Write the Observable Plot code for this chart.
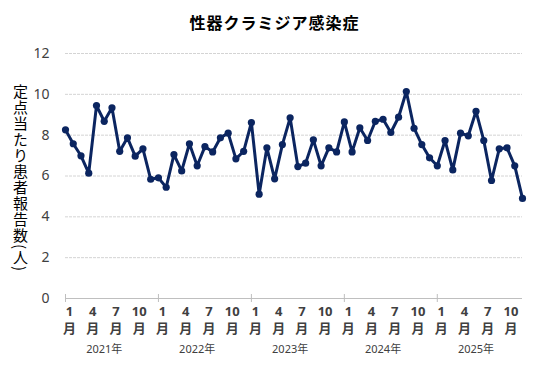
<!DOCTYPE html>
<html>
<head>
<meta charset="utf-8">
<script src="https://cdn.jsdelivr.net/npm/d3@7"></script>
<script src="https://cdn.jsdelivr.net/npm/@observablehq/plot@0.6"></script>
<style>
  html, body { margin: 0; padding: 0; background: #fff; }
  #wrap { position: relative; width: 549px; height: 380px; overflow: hidden; font-family: "Noto Sans CJK JP", "Noto Sans", sans-serif; }
  #title { position: absolute; left: 0; width: 549px; top: 10px; text-align: center; font-size: 16px; font-weight: bold; letter-spacing: 1px; color: #000; line-height: 24px; }
  #ylabel { position: absolute; left: 11px; top: 84px; writing-mode: vertical-rl; font-size: 15px; letter-spacing: 1px; color: #000; line-height: 18px; }
  #chart { position: absolute; left: 0; top: 40px; }
</style>
</head>
<body>
<div id="wrap">
  <div id="title"></div>
  <div id="ylabel"></div>
  <div id="chart"></div>
</div>
<script>
const chartTitle = "性器クラミジア感染症";
const yAxisLabel = "定点当たり患者報告数(人)";
const years = [2021, 2022, 2023, 2024, 2025];
const monthTickLabels = [1, 4, 7, 10];
const yTicks = [0, 2, 4, 6, 8, 10, 12];
const values = [
  8.26, 7.58, 6.99, 6.14, 9.45, 8.68, 9.34, 7.21, 7.87, 6.97, 7.33, 5.84,
  5.91, 5.45, 7.05, 6.25, 7.58, 6.50, 7.44, 7.18, 7.87, 8.10, 6.84, 7.21,
  8.62, 5.11, 7.38, 5.86, 7.54, 8.85, 6.46, 6.63, 7.77, 6.50, 7.38, 7.18,
  8.65, 7.18, 8.36, 7.74, 8.68, 8.78, 8.13, 8.88, 10.14, 8.34, 7.54, 6.89,
  6.50, 7.74, 6.30, 8.10, 7.97, 9.17, 7.74, 5.78, 7.33, 7.38, 6.50, 4.90
];

const navy = "#0b2560";
const data = values.map((v, i) => ({ i, year: years[Math.floor(i / 12)], month: (i % 12) + 1, v }));
const monthData = data.filter(d => monthTickLabels.includes(d.month));
const yearStarts = years.map((y, k) => k * 12);

document.getElementById("title").textContent = chartTitle;
document.getElementById("ylabel").textContent = yAxisLabel;

const plot = Plot.plot({
  width: 549,
  height: 340,
  marginLeft: 65,
  marginRight: 27,
  marginTop: 13,
  marginBottom: 82,
  style: { fontFamily: "'Noto Sans', 'Noto Sans CJK JP', sans-serif", color: "#404040", overflow: "visible" },
  x: { type: "linear", domain: [0, values.length - 1], axis: null },
  y: { domain: [0, 12], axis: null },
  marks: [
    Plot.ruleY(yTicks.filter(d => d > 0), { stroke: "#d4d4d4", strokeDasharray: "3,1" }),
    Plot.ruleY([0], { stroke: "#bfbfbf" }),
    Plot.ruleX(yearStarts, { x: d => d, y1: 0, y2: 0, insetTop: -4, insetBottom: -4, stroke: "#bfbfbf" }),
    Plot.axisY(yTicks, { label: null, tickSize: 0, tickPadding: 16, fontSize: 14, fill: "#404040" }),
    Plot.line(data, { x: "i", y: "v", stroke: navy, strokeWidth: 3, strokeLinejoin: "round" }),
    Plot.dot(data, { x: "i", y: "v", r: 3.6, fill: navy }),
    Plot.text(monthData, { x: "i", y: () => 0, text: d => d.month + "\n月", lineHeight: 1.3, lineAnchor: "middle", dx: 4, dy: 21, fontSize: 13, fontWeight: "bold", fill: "#404040" }),
    Plot.text(years, { x: (d, k) => k * 12 + 5, y: () => 0, text: d => d + "年", dy: 51, fontSize: 11, fill: "#404040" })
  ]
});
document.getElementById("chart").appendChild(plot);
</script>
</body>
</html>
